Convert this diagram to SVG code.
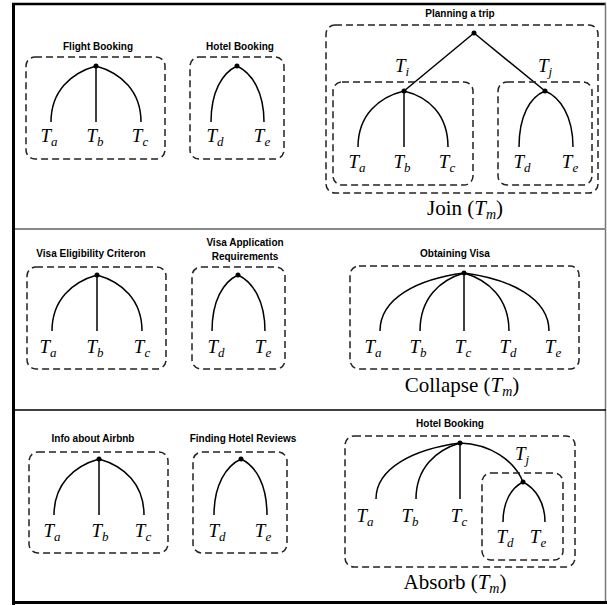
<svg xmlns="http://www.w3.org/2000/svg" width="607" height="605" viewBox="0 0 607 605">
<style>
.edge{fill:none;stroke:#000;stroke-width:1.5}
.box{fill:none;stroke:#222;stroke-width:1.5;stroke-dasharray:7 4}
.dot{fill:#000}
.title{font-family:"Liberation Sans",Arial,sans-serif;font-weight:bold;font-size:10px;text-anchor:middle;fill:#000}
.t{font-family:"Liberation Serif","Times New Roman",serif;font-style:italic;font-size:19px;text-anchor:middle;fill:#000}
.s{font-size:13px}
.cap{font-family:"Liberation Serif","Times New Roman",serif;font-size:21px;text-anchor:middle;fill:#000}
.frame{fill:none;stroke:#000}
</style>
<rect width="607" height="605" fill="#fff"/>
<g id="frame">
<line class="frame" x1="12" y1="4" x2="606" y2="4" stroke-width="2.5"/>
<line class="frame" x1="13.5" y1="3" x2="13.5" y2="605" stroke-width="3"/>
<line x1="605.5" y1="3" x2="605.5" y2="604" stroke="#777" stroke-width="1.5"/>
<line class="frame" x1="12" y1="602.5" x2="607" y2="602.5" stroke-width="3"/>
<line x1="15" y1="229" x2="606" y2="229" stroke="#888" stroke-width="2"/>
<line class="frame" x1="15" y1="410" x2="606" y2="410" stroke-width="1.5"/>
</g>
<g id="connectors">
<path class="edge" d="M96,66 C71,73 51,91 51,122"/>
<path class="edge" d="M96,66 L96,122"/>
<path class="edge" d="M96,66 C121,73 141,91 141,122"/>
<path class="edge" d="M237,66 C222,73 211,92 211,122"/>
<path class="edge" d="M237,66 C252,73 264,92 264,122"/>
<path class="edge" d="M474,33 L404,91"/>
<path class="edge" d="M474,33 L545,91"/>
<path class="edge" d="M404,91 C379,97 358,115 358,147"/>
<path class="edge" d="M404,91 L404,147"/>
<path class="edge" d="M404,91 C429,97 448,115 448,147"/>
<path class="edge" d="M545,91 C530,97 519,116 519,147"/>
<path class="edge" d="M545,91 C560,97 573,116 573,147"/>
<path class="edge" d="M97,275 C72,282 52,300 52,331"/>
<path class="edge" d="M97,275 L97,331"/>
<path class="edge" d="M97,275 C122,282 142,300 142,331"/>
<path class="edge" d="M238,275 C223,282 212,301 212,331"/>
<path class="edge" d="M238,275 C253,282 265,301 265,331"/>
<path class="edge" d="M464,273 C418,279 380,298 380,331"/>
<path class="edge" d="M464,273 C440,280 420,298 420,331"/>
<path class="edge" d="M464,273 L464,331"/>
<path class="edge" d="M464,273 C488,280 509,298 509,331"/>
<path class="edge" d="M464,273 C510,279 549,298 549,331"/>
<path class="edge" d="M99,459 C74,466 54,484 54,515"/>
<path class="edge" d="M99,459 L99,515"/>
<path class="edge" d="M99,459 C124,466 144,484 144,515"/>
<path class="edge" d="M241,459 C226,466 214,485 214,515"/>
<path class="edge" d="M241,459 C256,466 267,485 267,515"/>
<path class="edge" d="M460,443 C414,449 376,468 376,499"/>
<path class="edge" d="M460,443 C436,450 416,468 416,499"/>
<path class="edge" d="M460,443 L460,499"/>
<path class="edge" d="M460,443 C490,444 514,460 523,482"/>
<path class="edge" d="M523,482 C511,488 503,502 503,522"/>
<path class="edge" d="M523,482 C535,488 545,502 545,522"/>
</g>
<g id="flight-booking">
<text class="title" x="98" y="49.5">Flight Booking</text>
<rect class="box" x="26" y="57" width="139" height="102" rx="9"/>
<circle class="dot" cx="96" cy="66" r="2.5"/>
<text class="t" x="49" y="142">T<tspan class="s" dy="4">a</tspan></text>
<text class="t" x="95" y="142">T<tspan class="s" dy="4">b</tspan></text>
<text class="t" x="140" y="142">T<tspan class="s" dy="4">c</tspan></text>
</g>
<g id="hotel-booking-1">
<text class="title" x="240" y="49.5">Hotel Booking</text>
<rect class="box" x="190" y="57" width="94" height="102" rx="9"/>
<circle class="dot" cx="237" cy="66" r="2.5"/>
<text class="t" x="215" y="142">T<tspan class="s" dy="4">d</tspan></text>
<text class="t" x="262" y="142">T<tspan class="s" dy="4">e</tspan></text>
</g>
<g id="planning-trip">
<text class="title" x="460" y="17">Planning a trip</text>
<rect class="box" x="326" y="25" width="272" height="168" rx="9"/>
<circle class="dot" cx="474" cy="33" r="2.5"/>
<text class="t" x="402" y="72">T<tspan class="s" dy="4">i</tspan></text>
<text class="t" x="545" y="72">T<tspan class="s" dy="4">j</tspan></text>
<text class="cap" x="465" y="215">Join (<tspan font-style="italic">T</tspan><tspan font-style="italic" font-size="14" dy="4">m</tspan><tspan dy="-4">)</tspan></text>
</g>
<g id="join-ti">
<rect class="box" x="333" y="82" width="140" height="103" rx="9"/>
<circle class="dot" cx="404" cy="91" r="2.5"/>
<text class="t" x="357" y="168">T<tspan class="s" dy="4">a</tspan></text>
<text class="t" x="402" y="168">T<tspan class="s" dy="4">b</tspan></text>
<text class="t" x="447" y="168">T<tspan class="s" dy="4">c</tspan></text>
</g>
<g id="join-tj">
<rect class="box" x="498" y="82" width="94" height="103" rx="9"/>
<circle class="dot" cx="545" cy="91" r="2.5"/>
<text class="t" x="522" y="168">T<tspan class="s" dy="4">d</tspan></text>
<text class="t" x="570" y="168">T<tspan class="s" dy="4">e</tspan></text>
</g>
<g id="visa-eligibility">
<text class="title" x="91" y="256.5">Visa Eligibility Criteron</text>
<rect class="box" x="27" y="267" width="139" height="102" rx="9"/>
<circle class="dot" cx="97" cy="275" r="2.5"/>
<text class="t" x="48" y="353">T<tspan class="s" dy="4">a</tspan></text>
<text class="t" x="95" y="353">T<tspan class="s" dy="4">b</tspan></text>
<text class="t" x="142" y="353">T<tspan class="s" dy="4">c</tspan></text>
</g>
<g id="visa-application">
<text class="title" x="245" y="245.5">Visa Application</text>
<text class="title" x="245" y="260">Requirements</text>
<rect class="box" x="192" y="267" width="93" height="102" rx="9"/>
<circle class="dot" cx="238" cy="275" r="2.5"/>
<text class="t" x="216" y="353">T<tspan class="s" dy="4">d</tspan></text>
<text class="t" x="263" y="353">T<tspan class="s" dy="4">e</tspan></text>
</g>
<g id="obtaining-visa">
<text class="title" x="455" y="256.5">Obtaining Visa</text>
<rect class="box" x="350" y="266" width="229" height="103" rx="9"/>
<circle class="dot" cx="464" cy="273" r="2.5"/>
<text class="t" x="373" y="353">T<tspan class="s" dy="4">a</tspan></text>
<text class="t" x="418" y="353">T<tspan class="s" dy="4">b</tspan></text>
<text class="t" x="463" y="353">T<tspan class="s" dy="4">c</tspan></text>
<text class="t" x="508" y="353">T<tspan class="s" dy="4">d</tspan></text>
<text class="t" x="553" y="353">T<tspan class="s" dy="4">e</tspan></text>
<text class="cap" x="462" y="392">Collapse (<tspan font-style="italic">T</tspan><tspan font-style="italic" font-size="14" dy="4">m</tspan><tspan dy="-4">)</tspan></text>
</g>
<g id="info-airbnb">
<text class="title" x="93" y="441.5">Info about Airbnb</text>
<rect class="box" x="29" y="452" width="139" height="101" rx="9"/>
<circle class="dot" cx="99" cy="459" r="2.5"/>
<text class="t" x="52" y="537">T<tspan class="s" dy="4">a</tspan></text>
<text class="t" x="100" y="537">T<tspan class="s" dy="4">b</tspan></text>
<text class="t" x="143" y="537">T<tspan class="s" dy="4">c</tspan></text>
</g>
<g id="hotel-reviews">
<text class="title" x="243" y="441.5">Finding Hotel Reviews</text>
<rect class="box" x="193" y="452" width="94" height="101" rx="9"/>
<circle class="dot" cx="241" cy="459" r="2.5"/>
<text class="t" x="217" y="537">T<tspan class="s" dy="4">d</tspan></text>
<text class="t" x="263" y="537">T<tspan class="s" dy="4">e</tspan></text>
</g>
<g id="hotel-booking-2">
<text class="title" x="450" y="426.5">Hotel Booking</text>
<rect class="box" x="345" y="436" width="230" height="131" rx="9"/>
<circle class="dot" cx="460" cy="443" r="2.5"/>
<text class="t" x="365" y="522">T<tspan class="s" dy="4">a</tspan></text>
<text class="t" x="410" y="522">T<tspan class="s" dy="4">b</tspan></text>
<text class="t" x="459" y="522">T<tspan class="s" dy="4">c</tspan></text>
<text class="t" x="522" y="460">T<tspan class="s" dy="4">j</tspan></text>
<text class="cap" x="455" y="589">Absorb (<tspan font-style="italic">T</tspan><tspan font-style="italic" font-size="14" dy="4">m</tspan><tspan dy="-4">)</tspan></text>
</g>
<g id="absorb-tj">
<rect class="box" x="482" y="473" width="81" height="87" rx="9"/>
<circle class="dot" cx="523" cy="482" r="2.5"/>
<text class="t" x="505" y="543">T<tspan class="s" dy="4">d</tspan></text>
<text class="t" x="538" y="543">T<tspan class="s" dy="4">e</tspan></text>
</g>
</svg>
